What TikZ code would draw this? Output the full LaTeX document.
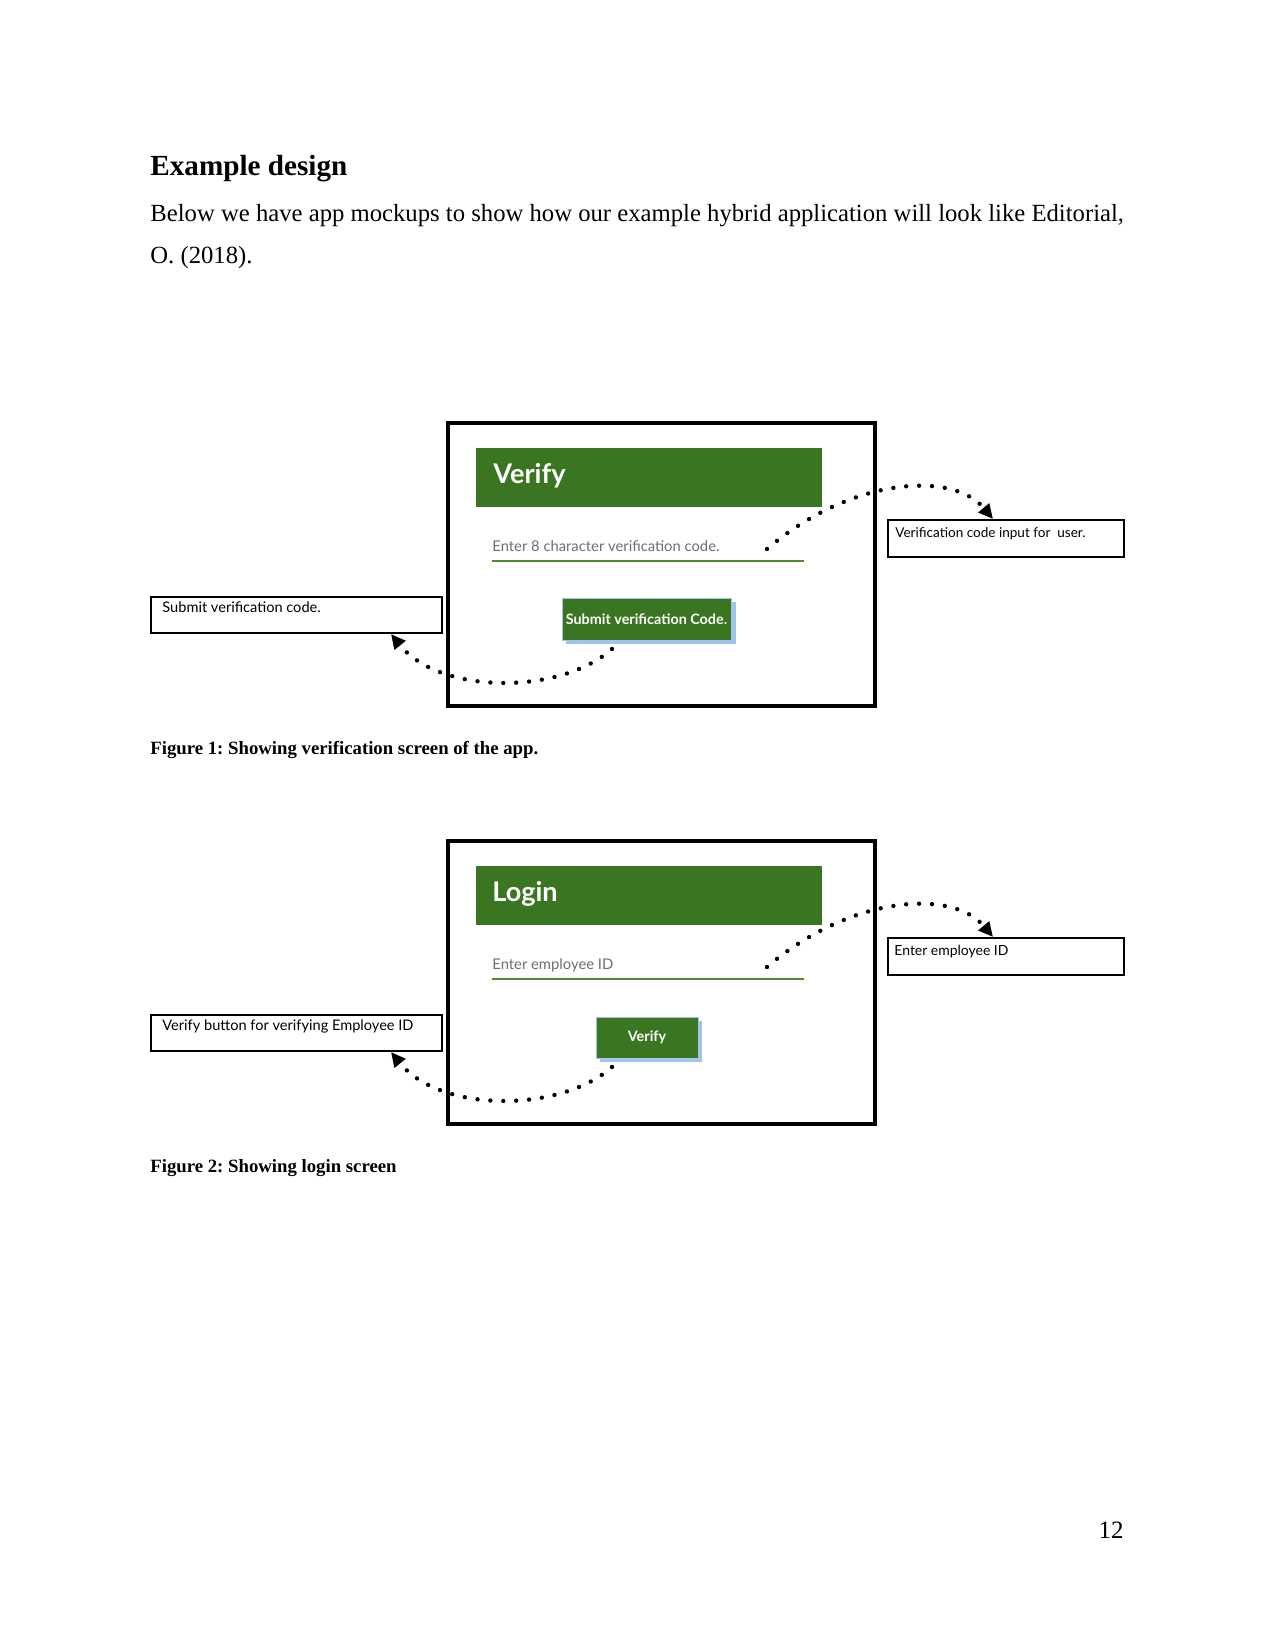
\documentclass[tikz,border=0pt]{standalone}
\usepackage{fontspec}
\setmainfont{Liberation Serif}
\newfontfamily\mock{Lato}
\usetikzlibrary{fit,calc,arrows.meta}
\definecolor{hdr}{RGB}{58,117,33}
\definecolor{uline}{RGB}{78,138,48}
\definecolor{btnblue}{RGB}{160,196,236}
\definecolor{ph}{RGB}{110,110,110}
\frenchspacing
\begin{document}
\begin{tikzpicture}[x=0.48pt,y=-0.48pt,
  frame/.style={draw, line width=1.5pt, fill=white, inner sep=0pt},
  labbox/.style={draw, line width=1.2pt, inner sep=0pt},
  hdrbox/.style={fill=hdr, inner sep=0pt},
  btnbox/.style={fill=hdr, draw=btnblue, line width=0.4pt, inner sep=0pt},
  btnshadow/.style={fill=btnblue, inner sep=0pt},
  hdrtext/.style={anchor=base west, inner sep=0pt, text=white, font=\mock\bfseries\fontsize{13}{15}\selectfont},
  phtext/.style={anchor=base west, inner sep=0pt, text=ph, font=\mock\fontsize{7.1}{8.5}\selectfont},
  labtext/.style={anchor=base west, inner sep=0pt, font=\mock\fontsize{7}{8.5}\selectfont},
  btntext/.style={inner sep=0pt, text=white, font=\mock\bfseries\fontsize{6.9}{8.5}\selectfont},
  uln/.style={draw=uline, line width=1pt},
  dotcon/.style={line width=2.1pt, dash pattern=on 0pt off 6.2pt, line cap=round, -{Triangle[length=7pt,width=6.5pt]}},
  body/.style={anchor=base west, inner sep=0pt, font=\fontsize{11.85}{14}\selectfont},
  caption/.style={anchor=base west, inner sep=0pt, font=\bfseries\fontsize{9}{11}\selectfont}
]
\useasboundingbox (0,0) rectangle (1275,1651);

% ---------- text ----------
\node[anchor=base west, inner sep=0pt, font=\bfseries\fontsize{14}{16}\selectfont] (title) at (150,176) {Example design};
\node[body] (line1) at (150,222) {Below we have app mockups to show how our example hybrid application will look like Editorial,};
\node[body] (line2) at (150,263) {O. (2018).};

% ---------- Figure 1 ----------
\node[frame, fit={(448,423)(875,706)}] (frame1) {};
\node[hdrbox, fit={(476,448)(822,507)}] (hdr1) {};
\node[hdrtext] (hdrt1) at (493,483) {Verify};
\node[phtext] (in1) at (492,551) {Enter 8 character verification code.};
\draw[uln] (492,561) -- (804,561);
\node[btnshadow, fit={(566,602)(736,644)}] (btnsh1) {};
\node[btnbox, fit={(562,598)(731,640)}] (btn1) {};
\node[btntext] (btnt1) at (btn1.center) {Submit verification Code.};
\node[labbox, fit={(151,597)(442,633)}] (llab1) {};
\node[labtext] (llabt1) at (162,612) {Submit verification code.};
\node[labbox, fit={(888,520)(1124,557)}] (rlab1) {};
\node[labtext, font=\mock\fontsize{6.5}{8}\selectfont] (rlabt1) at (895,537) {Verification code input for\ \ user.};
\coordinate (s1a) at (767,549);
\coordinate (e1a) at (993,519);
\coordinate (s1b) at (612,649);
\coordinate (e1b) at (391,634);
\draw[dotcon] (s1a) .. controls (850,478) and (952,470) .. (e1a);
\draw[dotcon] (s1b) .. controls (560,695) and (440,695) .. (e1b);
\node[caption] (cap1) at (150,754) {Figure 1: Showing verification screen of the app.};

% ---------- Figure 2 ----------
\node[frame, fit={(448,841)(875,1124)}] (frame2) {};
\node[hdrbox, fit={(476,866)(822,925)}] (hdr2) {};
\node[hdrtext] (hdrt2) at (492,901) {Login};
\node[phtext] (in2) at (492,969) {Enter employee ID};
\draw[uln] (492,979) -- (804,979);
\node[btnshadow, fit={(600,1021)(702,1062)}] (btnsh2) {};
\node[btnbox, fit={(596,1017)(698,1058)}] (btn2) {};
\node[btntext] (btnt2) at (btn2.center) {Verify};
\node[labbox, fit={(151,1015)(442,1051)}] (llab2) {};
\node[labtext] (llabt2) at (162,1030) {Verify button for verifying Employee ID};
\node[labbox, fit={(888,938)(1124,975)}] (rlab2) {};
\node[labtext, font=\mock\fontsize{6.7}{8}\selectfont] (rlabt2) at (894,955) {Enter employee ID};
\coordinate (s2a) at (767,967);
\coordinate (e2a) at (993,937);
\coordinate (s2b) at (612,1067);
\coordinate (e2b) at (391,1052);
\draw[dotcon] (s2a) .. controls (850,896) and (952,888) .. (e2a);
\draw[dotcon] (s2b) .. controls (560,1113) and (440,1113) .. (e2b);
\node[caption] (cap2) at (150,1172) {Figure 2: Showing login screen};

% ---------- page number ----------
\node[anchor=base east, inner sep=0pt, font=\fontsize{12}{14}\selectfont] (pg) at (1124,1538) {12};
\end{tikzpicture}
\end{document}
